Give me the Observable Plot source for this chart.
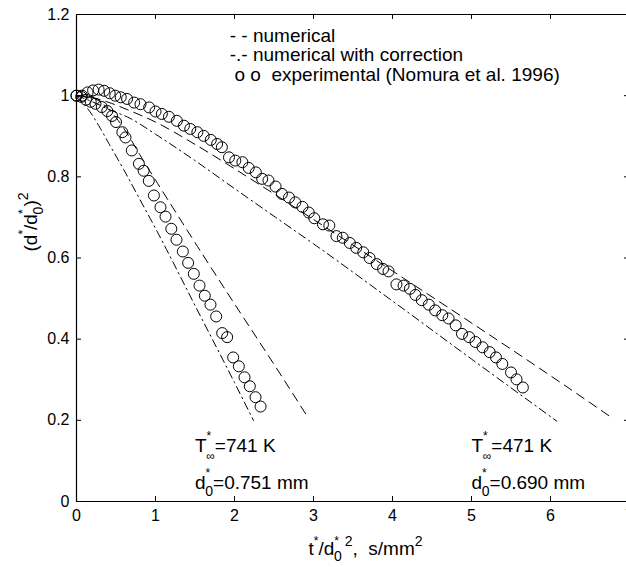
<!DOCTYPE html>
<html><head><meta charset="utf-8">
<script src="https://cdn.jsdelivr.net/npm/d3@7"></script>
<script src="https://cdn.jsdelivr.net/npm/@observablehq/plot@0.6"></script>
<style>
html,body{margin:0;padding:0;background:#fff;overflow:hidden;}
svg text, svg tspan{white-space:pre;}
</style></head><body><div id="chart"></div>
<script>
// ---- axis ticks
const xTicks = [0, 1, 2, 3, 4, 5, 6, 7];
const xTickLabels = ["0", "1", "2", "3", "4", "5", "6", "7"];
const yTicks = [0, 0.2, 0.4, 0.6, 0.8, 1.0, 1.2];
const yTickLabels = ["0", "0.2", "0.4", "0.6", "0.8", "1", "1.2"];

// ---- experimental (Nomura et al. 1996), T=471 K
const exp471X = [0,0.07,0.14,0.21,0.28,0.35,0.42,0.49,0.56,0.64,0.73,0.81,0.92,1.0,1.08,1.17,1.27,1.36,1.44,1.53,1.61,1.70,1.78,1.84,1.93,2.01,2.10,2.18,2.27,2.35,2.43,2.52,2.60,2.69,2.77,2.86,2.94,3.01,3.12,3.20,3.29,3.37,3.46,3.54,3.63,3.71,3.80,3.88,3.95,4.05,4.14,4.22,4.29,4.37,4.46,4.54,4.63,4.71,4.80,4.88,4.97,5.05,5.14,5.23,5.31,5.39,5.50,5.57,5.65];
const exp471Y = [1.0,1.0,1.008,1.013,1.015,1.012,1.006,1.0,0.996,0.992,0.983,0.979,0.971,0.961,0.955,0.948,0.938,0.926,0.918,0.91,0.901,0.891,0.881,0.873,0.848,0.84,0.836,0.822,0.811,0.795,0.791,0.776,0.758,0.749,0.737,0.726,0.712,0.698,0.683,0.680,0.654,0.650,0.637,0.625,0.614,0.600,0.585,0.573,0.567,0.535,0.532,0.524,0.509,0.496,0.485,0.471,0.459,0.451,0.434,0.413,0.405,0.393,0.38,0.368,0.355,0.339,0.318,0.301,0.281];

// ---- experimental, T=741 K
const exp741X = [0,0.06,0.12,0.18,0.24,0.32,0.39,0.45,0.5,0.58,0.62,0.70,0.79,0.85,0.915,0.98,1.063,1.127,1.20,1.266,1.346,1.413,1.485,1.557,1.624,1.696,1.768,1.844,1.907,1.983,2.055,2.127,2.194,2.266,2.33];
const exp741Y = [1.0,0.997,0.99,0.985,0.98,0.972,0.962,0.95,0.935,0.91,0.897,0.865,0.832,0.815,0.79,0.754,0.725,0.702,0.672,0.645,0.616,0.588,0.561,0.532,0.507,0.485,0.456,0.415,0.405,0.355,0.333,0.306,0.284,0.257,0.234];

// ---- numerical (dashed)
const num741X = [0,0.1,0.2,0.3,0.4,0.5,0.6,0.7,0.8,0.9,1.0,1.5,2.0,2.5,2.93];
const num741Y = [1,0.999,0.995,0.985,0.968,0.946,0.919,0.888,0.855,0.823,0.792,0.638,0.487,0.338,0.207];
const num471X = [0,0.2,0.4,0.65,1.0,1.5,2.0,3.0,4.0,5.0,6.0,6.78];
const num471Y = [1,0.995,0.984,0.965,0.935,0.88,0.82,0.695,0.568,0.44,0.31,0.206];

// ---- numerical with correction (dash-dot)
const cor741X = [0,0.1,0.2,0.3,0.41,0.6,0.8,1.0,1.5,2.0,2.24];
const cor741Y = [1,0.978,0.952,0.92,0.882,0.817,0.745,0.673,0.483,0.293,0.2];
const cor471X = [0,0.2,0.4,0.68,1.0,1.5,2.0,2.5,3.0,4.0,5.0,6.08];
const cor471Y = [1,0.985,0.967,0.944,0.905,0.84,0.771,0.703,0.635,0.494,0.351,0.198];

// ---- legend-like text and annotations
const legendTexts = ["- - numerical", "-.- numerical with correction", "o o  experimental (Nomura et al. 1996)"];
const legendX = [1.94, 1.94, 2.0];
const legendY = [1.148, 1.101, 1.052];
const annoTexts = ["T741", "d741", "T471", "d471"];
const annoX = [1.5, 1.5, 5.0, 5.0];
const annoY = [0.138, 0.047, 0.138, 0.047];

const FONT = "'Liberation Sans', Arial, Helvetica, sans-serif";
const SUP = 'font-size="12"';
const rich = {
  "T741": `T<tspan ${SUP} dy="-12">*</tspan><tspan ${SUP} dx="-5" dy="20">∞</tspan><tspan dy="-8">=741 K</tspan>`,
  "T471": `T<tspan ${SUP} dy="-12">*</tspan><tspan ${SUP} dx="-5" dy="20">∞</tspan><tspan dy="-8">=471 K</tspan>`,
  "d741": `d<tspan ${SUP} dy="-12">*</tspan><tspan font-size="14" dx="-5" dy="19">0</tspan><tspan dy="-7">=0.751 mm</tspan>`,
  "d471": `d<tspan ${SUP} dy="-12">*</tspan><tspan font-size="14" dx="-5" dy="19">0</tspan><tspan dy="-7">=0.690 mm</tspan>`,
  "XLABEL": `t<tspan ${SUP} dy="-10">*</tspan><tspan dy="10">/d</tspan><tspan ${SUP} dy="-10">*</tspan><tspan font-size="14" dx="-5" dy="16">0</tspan><tspan font-size="14" dx="3" dy="-15">2</tspan><tspan dy="9">,  s/mm</tspan><tspan font-size="14" dy="-9">2</tspan>`,
  "YLABEL": `(d<tspan ${SUP} dy="-10">*</tspan><tspan dy="10">/d</tspan><tspan ${SUP} dy="-10">*</tspan><tspan font-size="14" dx="-5" dy="16">0</tspan><tspan dy="-6">)</tspan><tspan font-size="14" dy="-9">2</tspan>`
};

const pts = (X, Y) => X.map((x, i) => ({x, y: Y[i]}));
const idx = (a) => a.map((_, i) => i);

const TK = 5;
const chart = Plot.plot({
  width: 626,
  height: 567,
  marginLeft: 76,
  marginRight: 0,
  marginTop: 14,
  marginBottom: 66,
  style: {fontFamily: FONT, background: "#fff", color: "#000"},
  x: {domain: [0, 7], range: [76, 629], axis: null},
  y: {domain: [0, 1.2], range: [501, 14], axis: null},
  marks: [
    // frame
    Plot.ruleX([0, 7], {x: d => d, y1: 0, y2: 1.2, stroke: "#000", strokeWidth: 1.2}),
    Plot.ruleY([0, 1.2], {y: d => d, x1: 0, x2: 7, stroke: "#000", strokeWidth: 1.2}),
    // inward ticks
    Plot.ruleX(xTicks, {x: d => d, y1: 0, y2: 0, insetTop: -TK, stroke: "#000"}),
    Plot.ruleX(xTicks, {x: d => d, y1: 1.2, y2: 1.2, insetBottom: -TK, stroke: "#000"}),
    Plot.ruleY(yTicks, {y: d => d, x1: 0, x2: 0, insetRight: -TK, stroke: "#000"}),
    Plot.ruleY(yTicks, {y: d => d, x1: 7, x2: 7, insetLeft: -TK, stroke: "#000"}),
    // tick labels
    Plot.text(idx(xTicks), {x: i => xTicks[i], y: 0, text: i => xTickLabels[i], dy: 14, fontSize: 16, fill: "#000"}),
    Plot.text(idx(yTicks), {x: 0, y: i => yTicks[i], text: i => yTickLabels[i], dx: -7, textAnchor: "end", fontSize: 16, fill: "#000"}),
    // model curves
    Plot.line(pts(num741X, num741Y), {x: "x", y: "y", stroke: "#000", strokeWidth: 1, strokeDasharray: "9,6", curve: "monotone-x"}),
    Plot.line(pts(num471X, num471Y), {x: "x", y: "y", stroke: "#000", strokeWidth: 1, strokeDasharray: "9,6", curve: "monotone-x"}),
    Plot.line(pts(cor741X, cor741Y), {x: "x", y: "y", stroke: "#000", strokeWidth: 1, strokeDasharray: "8,4,1.5,4", curve: "monotone-x"}),
    Plot.line(pts(cor471X, cor471Y), {x: "x", y: "y", stroke: "#000", strokeWidth: 1, strokeDasharray: "8,4,1.5,4", curve: "monotone-x"}),
    // experimental circles
    Plot.dot(pts(exp471X, exp471Y), {x: "x", y: "y", r: 5.5, stroke: "#000", fill: "none", strokeWidth: 1}),
    Plot.dot(pts(exp741X, exp741Y), {x: "x", y: "y", r: 5.5, stroke: "#000", fill: "none", strokeWidth: 1}),
    // legend-like text
    Plot.text(idx(legendTexts), {x: i => legendX[i], y: i => legendY[i], text: i => legendTexts[i], textAnchor: "start", fontSize: 19, fill: "#000"}),
    // annotations
    Plot.text(idx(annoTexts), {x: i => annoX[i], y: i => annoY[i], text: i => annoTexts[i], textAnchor: "start", fontSize: 19, fill: "#000"}),
    // axis labels
    Plot.text(["XLABEL"], {frameAnchor: "bottom", text: d => d, textAnchor: "middle", lineAnchor: "middle", dx: 14, dy: 47, fontSize: 19, fill: "#000"}),
    Plot.text(["YLABEL"], {frameAnchor: "left", text: d => d, textAnchor: "middle", lineAnchor: "middle", dx: -46, dy: -36, rotate: -90, fontSize: 19, fill: "#000"})
  ]
});

chart.querySelectorAll("text").forEach(t => {
  const k = t.textContent;
  if (rich[k]) t.innerHTML = rich[k];
});
document.getElementById("chart").appendChild(chart);
</script></body></html>
